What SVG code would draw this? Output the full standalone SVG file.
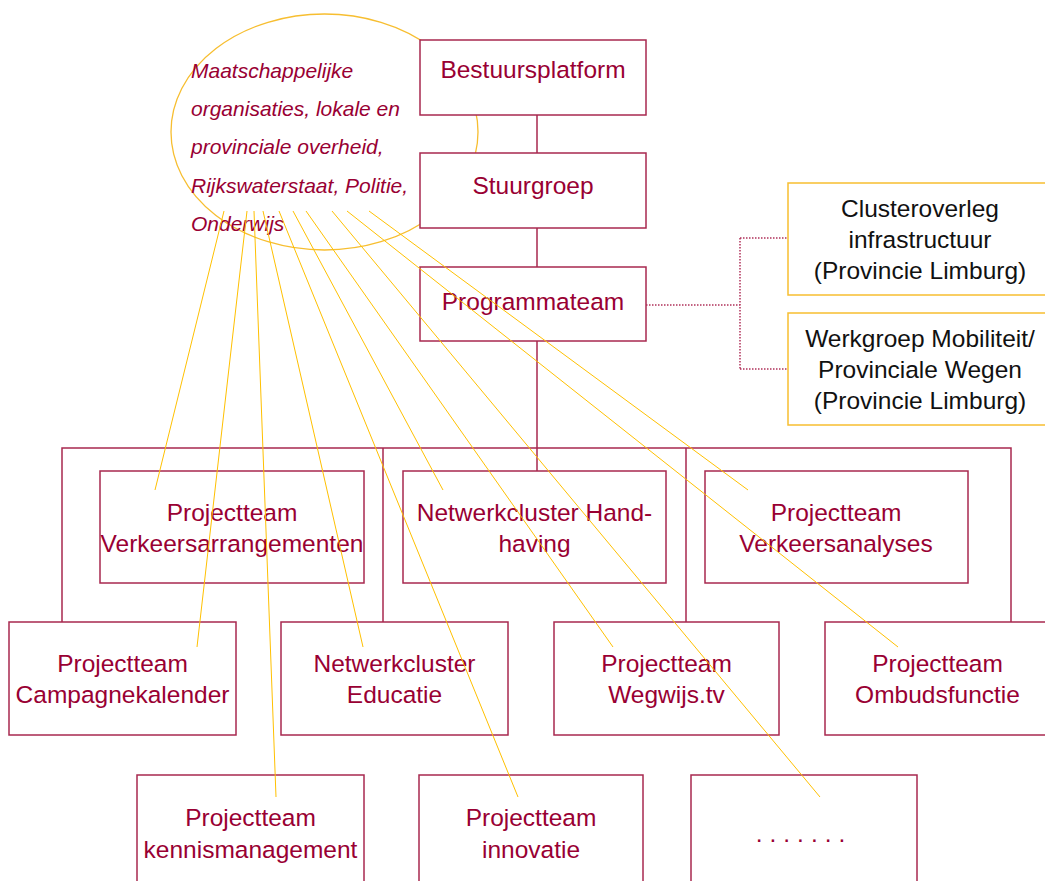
<svg xmlns="http://www.w3.org/2000/svg" width="1045" height="881" viewBox="0 0 1045 881">
<style>
.box{fill:#fff;stroke:#A8284F;stroke-width:1.5}
.obox{fill:#fff;stroke:#F7BE30;stroke-width:1.5}
.t{font-family:"Liberation Sans",Arial,sans-serif;font-size:24.5px;fill:#990033;text-anchor:middle}
.tb{font-family:"Liberation Sans",Arial,sans-serif;font-size:24.5px;fill:#111;text-anchor:middle}
.ti{font-family:"Liberation Sans",Arial,sans-serif;font-size:21px;font-style:italic;fill:#990033}
.ln{stroke:#A8284F;stroke-width:1.5;fill:none}
.dot{stroke:#B0305A;stroke-width:1.5;fill:none;stroke-dasharray:1.5 1.5}
.ol{stroke:#FFC000;stroke-width:1;fill:none}
</style>
<rect width="1045" height="881" fill="#fff"/>
<g id="stakeholders">
<ellipse cx="324.5" cy="132" rx="153.5" ry="118" fill="none" stroke="#F7BE30" stroke-width="1.3"/>
<text class="ti" x="191" y="78">Maatschappelijke</text>
<text class="ti" x="191" y="116">organisaties, lokale en</text>
<text class="ti" x="191" y="154">provinciale overheid,</text>
<text class="ti" x="191" y="193">Rijkswaterstaat, Politie,</text>
<text class="ti" x="191" y="231">Onderwijs</text>
</g>
<g id="bestuursplatform"><rect class="box" x="420" y="40" width="226" height="75"/><text class="t" x="533" y="78">Bestuursplatform</text></g>
<g id="stuurgroep"><rect class="box" x="420" y="153" width="226" height="75"/><text class="t" x="533" y="194">Stuurgroep</text></g>
<g id="programmateam"><rect class="box" x="420" y="267" width="226" height="74"/><text class="t" x="533" y="310">Programmateam</text></g>
<g id="clusteroverleg"><rect class="obox" x="788" y="183" width="264" height="112"/><text class="tb" x="920" y="217">Clusteroverleg</text><text class="tb" x="920" y="248">infrastructuur</text><text class="tb" x="920" y="279">(Provincie Limburg)</text></g>
<g id="werkgroep"><rect class="obox" x="788" y="313" width="264" height="112"/><text class="tb" x="920" y="347">Werkgroep Mobiliteit/</text><text class="tb" x="920" y="378">Provinciale Wegen</text><text class="tb" x="920" y="409">(Provincie Limburg)</text></g>
<g id="verkeersarrangementen"><rect class="box" x="100" y="471" width="264" height="112"/><text class="t" x="232" y="521">Projectteam</text><text class="t" x="232" y="552">Verkeersarrangementen</text></g>
<g id="handhaving"><rect class="box" x="403" y="471" width="263" height="112"/><text class="t" x="534.5" y="521">Netwerkcluster Hand-</text><text class="t" x="534.5" y="552">having</text></g>
<g id="verkeersanalyses"><rect class="box" x="705" y="471" width="263" height="112"/><text class="t" x="836" y="521">Projectteam</text><text class="t" x="836" y="552">Verkeersanalyses</text></g>
<g id="campagnekalender"><rect class="box" x="9" y="622" width="227" height="113"/><text class="t" x="122.5" y="672">Projectteam</text><text class="t" x="122.5" y="703">Campagnekalender</text></g>
<g id="educatie"><rect class="box" x="281" y="622" width="227" height="113"/><text class="t" x="394.5" y="672">Netwerkcluster</text><text class="t" x="394.5" y="703">Educatie</text></g>
<g id="wegwijs"><rect class="box" x="554" y="622" width="225" height="113"/><text class="t" x="666.5" y="672">Projectteam</text><text class="t" x="666.5" y="703">Wegwijs.tv</text></g>
<g id="ombudsfunctie"><rect class="box" x="825" y="622" width="226" height="113"/><text class="t" x="937.5" y="672">Projectteam</text><text class="t" x="937.5" y="703">Ombudsfunctie</text></g>
<g id="kennismanagement"><rect class="box" x="137" y="775" width="227" height="125"/><text class="t" x="250.5" y="826">Projectteam</text><text class="t" x="250.5" y="858">kennismanagement</text></g>
<g id="innovatie"><rect class="box" x="419" y="775" width="224" height="125"/><text class="t" x="531" y="826">Projectteam</text><text class="t" x="531" y="858">innovatie</text></g>
<g id="overig"><rect class="box" x="691" y="775" width="226" height="125"/><text class="t" x="804" y="842" letter-spacing="7">.......</text></g>
<g id="connectors">
<path class="ln" d="M537 115V153M537 228V267M537 341V471M62 622V448H1011V622M383 448V622M686 448V622"/>
<path class="dot" d="M646 305H740M740 238V369M740 238H788M740 369H788"/>
<g class="ol">
<line x1="224" y1="211" x2="155" y2="490"/>
<line x1="247" y1="211" x2="197" y2="647"/>
<line x1="254" y1="211" x2="276" y2="797"/>
<line x1="263" y1="211" x2="363" y2="647"/>
<line x1="279" y1="211" x2="518" y2="797"/>
<line x1="293" y1="211" x2="443" y2="490"/>
<line x1="306" y1="211" x2="613" y2="647"/>
<line x1="332" y1="211" x2="820" y2="797"/>
<line x1="347" y1="211" x2="898" y2="647"/>
<line x1="369" y1="211" x2="748" y2="490"/>
</g>
</g>
</svg>
